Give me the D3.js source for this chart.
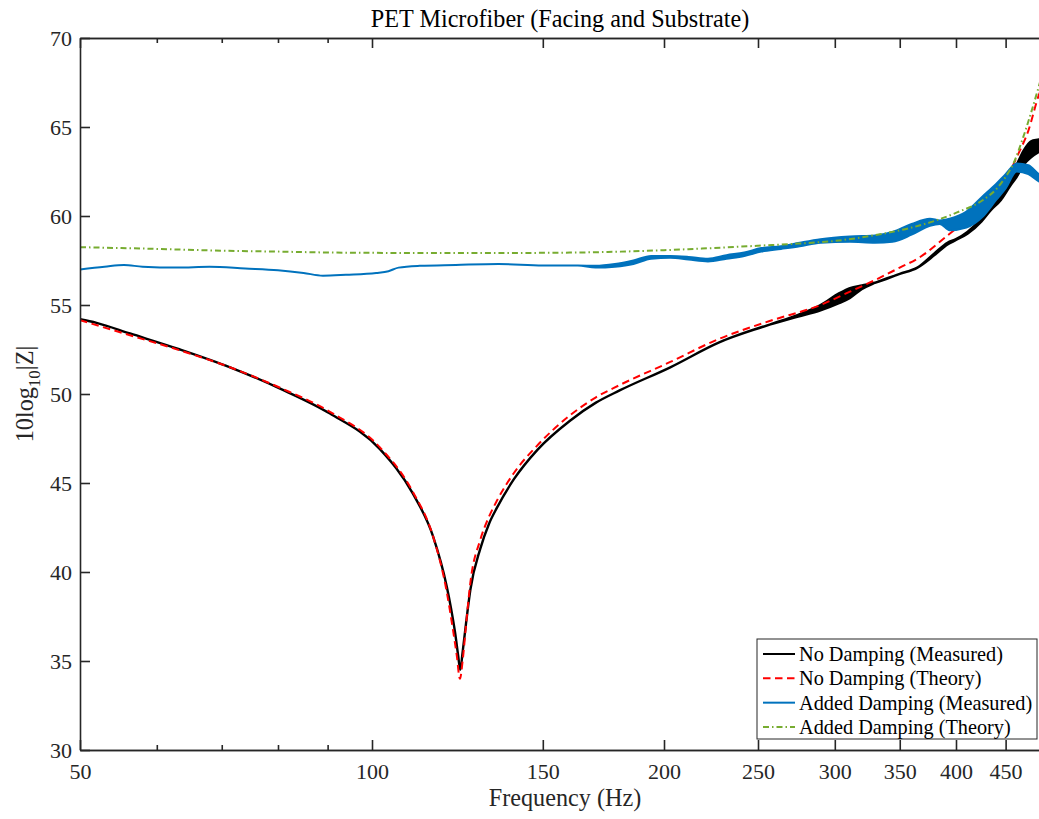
<!DOCTYPE html>
<html>
<head>
<meta charset="utf-8">
<script src="https://cdn.jsdelivr.net/npm/d3@7"></script>
<style>
  body { margin: 0; background: #fff; }
  svg { display: block; font-family: "Liberation Serif", "Times New Roman", serif; }
</style>
</head>
<body>
<div id="chart"></div>
<script>
// 频率刻度
const xTicks = [50, 100, 150, 200, 250, 300, 350, 400, 450]
const xMinorTicks = [60, 70, 80, 90]
const yTicks = [30, 35, 40, 45, 50, 55, 60, 65, 70]

// 实测数据：[频率, 下包络, 上包络]（振荡处有宽度）
const noDampMeasured = [
  [50, 54.2, 54.2], [52, 54.0, 54.0], [56.3, 53.4, 53.4], [63.4, 52.5, 52.5],
  [71.4, 51.5, 51.5], [80.4, 50.3, 50.3], [90.5, 48.9, 48.9], [101.9, 46.9, 46.9],
  [110.2, 44.4, 44.4], [115.6, 42.0, 42.0], [119.4, 39.2, 39.2], [120.6, 38.0, 38.0],
  [121.8, 36.6, 36.6], [122.7, 35.3, 35.3], [123.3, 34.5, 34.5], [124.0, 35.5, 35.5],
  [125.0, 37.1, 37.1], [126.3, 39.0, 39.0], [129.3, 41.3, 41.3], [132, 42.7, 42.7],
  [134.5, 43.6, 43.6], [140, 45.2, 45.2], [148, 46.85, 46.85], [160, 48.5, 48.5],
  [170, 49.5, 49.5], [180, 50.2, 50.2], [203, 51.5, 51.5], [228, 52.9, 52.9],
  [257, 53.9, 53.9], [275, 54.35, 54.45], [290, 54.7, 55.0], [303, 55.1, 55.65],
  [311, 55.4, 55.95], [320, 55.9, 56.1], [330, 56.25, 56.25], [350, 56.75, 56.75],
  [365, 57.1, 57.1], [380, 57.8, 57.9], [392, 58.4, 58.5], [400, 58.65, 58.7],
  [411, 59.0, 59.1], [425, 59.7, 59.9], [434, 60.3, 60.6], [445, 60.9, 61.4],
  [455, 61.7, 62.3], [462, 62.2, 62.9], [470, 62.9, 63.7], [478, 63.3, 64.2],
  [487, 63.6, 64.3], [500, 63.9, 64.5]
]

const noDampTheory = [
  [50, 54.15], [56.3, 53.3], [63.4, 52.45], [71.4, 51.5], [80.4, 50.35], [90.5, 49.0],
  [101.9, 47.0], [110.2, 44.5], [115.6, 42.0], [119.4, 38.9], [121.0, 37.0], [122.3, 35.3],
  [123.2, 34.0], [124.0, 35.0], [125.0, 37.0], [126.3, 39.4], [129.3, 41.8], [132, 43.1],
  [134.5, 44.0], [140, 45.55], [148, 47.1], [160, 48.8], [170, 49.8], [180, 50.5],
  [203, 51.8], [228, 53.1], [257, 54.1], [290, 55.0], [311, 55.75], [330, 56.4],
  [350, 57.1], [365, 57.6], [394, 59.0], [420, 60.2], [444, 61.4], [462, 63.3],
  [475, 64.8], [487, 66.8], [500, 68.0]
]

const addedDampMeasured = [
  [50, 57.0, 57.0], [53, 57.15, 57.15], [55.5, 57.25, 57.25], [58, 57.15, 57.15],
  [63, 57.1, 57.1], [68, 57.15, 57.15], [74, 57.05, 57.05], [80, 56.95, 56.95],
  [85, 56.8, 56.8], [89, 56.65, 56.65], [94, 56.7, 56.7], [101, 56.8, 56.8],
  [104, 56.9, 56.9], [106.5, 57.1, 57.1], [112, 57.2, 57.2], [122, 57.25, 57.25],
  [135, 57.3, 57.3], [150, 57.22, 57.22], [163, 57.22, 57.22], [170, 57.1, 57.2],
  [178, 57.15, 57.3], [186, 57.3, 57.5], [194, 57.6, 57.75], [203, 57.65, 57.75],
  [212, 57.55, 57.7], [222, 57.45, 57.6], [232, 57.6, 57.8], [242, 57.75, 57.95],
  [252, 58.0, 58.2], [264, 58.15, 58.3], [276, 58.3, 58.5], [290, 58.5, 58.7],
  [311, 58.55, 58.85], [330, 58.5, 58.9], [344, 58.55, 59.1], [360, 58.95, 59.55],
  [376, 59.45, 59.85], [385, 59.55, 59.75], [394, 59.2, 59.85], [410, 59.35, 60.25],
  [426, 59.95, 61.1], [440, 60.9, 61.8], [450, 61.55, 62.35], [462, 62.5, 62.95],
  [475, 62.35, 62.85], [487, 61.95, 62.35], [500, 61.65, 62.05]
]

const addedDampTheory = [
  [50, 58.25], [60, 58.15], [70, 58.05], [80, 58.0], [90, 57.95], [100, 57.93],
  [125, 57.92], [150, 57.93], [175, 57.98], [200, 58.08], [225, 58.2], [250, 58.33],
  [275, 58.45], [300, 58.6], [320, 58.8], [336, 59.0], [360, 59.35], [379, 59.7],
  [401, 60.2], [426.5, 60.9], [440, 61.5], [450, 62.2], [458, 62.9], [469, 64.4],
  [478, 65.8], [487, 67.3], [500, 69.6]
]

const legendLabels = [
  "No Damping (Measured)", "No Damping (Theory)",
  "Added Damping (Measured)", "Added Damping (Theory)"
]

const W = 1039, H = 819
const margin = { left: 80, right: 1050, top: 38, bottom: 750 }
const axisColor = "#262626"

const x = d3.scaleLog().domain([50, 500]).range([margin.left, margin.right])
const y = d3.scaleLinear().domain([30, 70]).range([margin.bottom, margin.top])

const svg = d3.select("#chart").append("svg")
  .attr("width", W).attr("height", H)

svg.append("defs").append("clipPath").attr("id", "plot-clip")
  .append("rect")
  .attr("x", margin.left).attr("y", margin.top)
  .attr("width", margin.right - margin.left).attr("height", margin.bottom - margin.top)

// 曲线
const band = d3.area()
  .x(d => x(d[0])).y0(d => y(d[1])).y1(d => y(d[2]))
  .curve(d3.curveMonotoneX)
const line = d3.line()
  .x(d => x(d[0])).y(d => y(d[1]))
  .curve(d3.curveMonotoneX)

const plot = svg.append("g").attr("clip-path", "url(#plot-clip)")

const series = [
  { data: noDampMeasured, type: "band", color: "#000000", width: 2.4, dash: null },
  { data: noDampTheory, type: "line", color: "#ff0000", width: 2, dash: "7.5,4.5" },
  { data: addedDampMeasured, type: "band", color: "#0072BD", width: 2, dash: null },
  { data: addedDampTheory, type: "line", color: "#77AC30", width: 2, dash: "6,3,1.5,3" }
]

series.forEach(s => {
  plot.append("path")
    .attr("d", s.type === "band" ? band(s.data) : line(s.data))
    .attr("fill", s.type === "band" ? s.color : "none")
    .attr("stroke", s.color)
    .attr("stroke-width", s.width)
    .attr("stroke-linejoin", "round")
    .attr("stroke-dasharray", s.dash)
})

// 坐标轴
const styleAxis = g => {
  g.selectAll(".domain").attr("stroke", axisColor).attr("stroke-width", 1.6)
  g.selectAll(".tick line").attr("stroke", axisColor).attr("stroke-width", 1.6)
  g.selectAll(".tick text").attr("fill", axisColor)
    .attr("font-size", "22px").attr("font-family", "Liberation Serif, serif")
}

svg.append("g")
  .attr("transform", `translate(0,${margin.bottom})`)
  .call(d3.axisBottom(x).tickValues(xTicks).tickFormat(d3.format("d"))
    .tickSize(-10).tickSizeOuter(0).tickPadding(13))
  .call(styleAxis)

svg.append("g")
  .attr("transform", `translate(0,${margin.bottom})`)
  .call(d3.axisBottom(x).tickValues(xMinorTicks).tickFormat("")
    .tickSize(-5).tickSizeOuter(0))
  .call(styleAxis)

svg.append("g")
  .attr("transform", `translate(0,${margin.top})`)
  .call(d3.axisTop(x).tickValues(xTicks).tickFormat("")
    .tickSize(-10).tickSizeOuter(0))
  .call(styleAxis)

svg.append("g")
  .attr("transform", `translate(0,${margin.top})`)
  .call(d3.axisTop(x).tickValues(xMinorTicks).tickFormat("")
    .tickSize(-5).tickSizeOuter(0))
  .call(styleAxis)

svg.append("g")
  .attr("transform", `translate(${margin.left},0)`)
  .call(d3.axisLeft(y).tickValues(yTicks)
    .tickSize(-10).tickSizeOuter(0).tickPadding(8))
  .call(styleAxis)

svg.append("g")
  .attr("transform", `translate(${margin.right},0)`)
  .call(d3.axisRight(y).tickValues(yTicks).tickFormat("")
    .tickSize(-10).tickSizeOuter(0))
  .call(styleAxis)

// 标题与轴标签
const cx = (margin.left + margin.right) / 2
svg.append("text")
  .text("PET Microfiber (Facing and Substrate)")
  .attr("x", cx - 5).attr("y", 27)
  .attr("text-anchor", "middle")
  .attr("font-size", "24.2px").attr("fill", "#000")

svg.append("text")
  .text("Frequency (Hz)")
  .attr("x", cx).attr("y", 806)
  .attr("text-anchor", "middle")
  .attr("font-size", "24.2px").attr("fill", axisColor)

const yLabel = svg.append("text")
  .attr("transform", `translate(33,${(margin.top + margin.bottom) / 2}) rotate(-90)`)
  .attr("text-anchor", "middle")
  .attr("font-size", "24.2px").attr("fill", axisColor)
yLabel.append("tspan").text("10log")
yLabel.append("tspan").text("10").attr("font-size", "17px").attr("dy", 7)
yLabel.append("tspan").text("|Z|").attr("dy", -7)

// 图例
const legend = svg.append("g").attr("transform", "translate(757,639)")
legend.append("rect")
  .attr("width", 280).attr("height", 100)
  .attr("fill", "#fff").attr("stroke", axisColor).attr("stroke-width", 1)

const rowScale = d3.scalePoint().domain(legendLabels).range([15, 88])
legendLabels.forEach((label, i) => {
  const s = series[i]
  const ry = rowScale(label)
  legend.append("line")
    .attr("x1", 6).attr("x2", 38).attr("y1", ry).attr("y2", ry)
    .attr("stroke", s.color).attr("stroke-width", 2)
    .attr("stroke-dasharray", s.dash)
  legend.append("text")
    .text(label)
    .attr("x", 42).attr("y", ry).attr("dy", "0.34em")
    .attr("font-size", "20.3px").attr("fill", "#000")
})
</script>
</body>
</html>
